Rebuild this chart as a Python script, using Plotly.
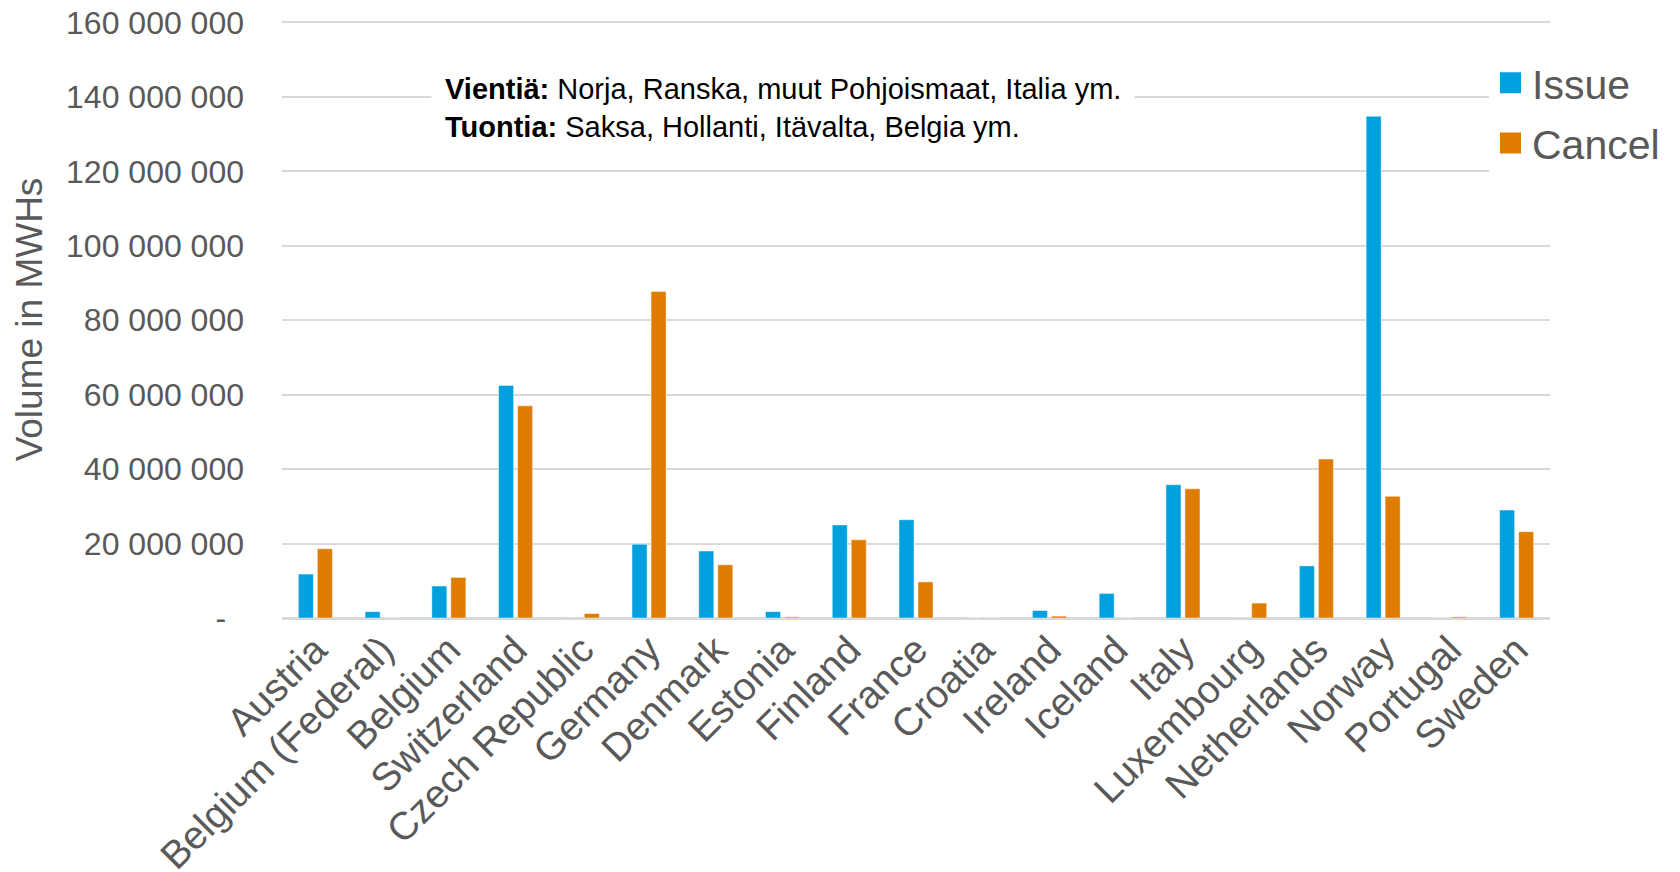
import plotly.graph_objects as go

countries = ["Austria", "Belgium (Federal)", "Belgium", "Switzerland", "Czech Republic",
             "Germany", "Denmark", "Estonia", "Finland", "France", "Croatia", "Ireland",
             "Iceland", "Italy", "Luxembourg", "Netherlands", "Norway", "Portugal", "Sweden"]
issue = [11.8e6, 1.7e6, 8.6e6, 62.5e6, 0.05e6, 19.8e6, 18.0e6, 1.7e6, 25.0e6, 26.4e6,
         0, 2.0e6, 6.6e6, 35.8e6, 0.05e6, 14.0e6, 134.8e6, 0, 29.0e6]
cancel = [18.6e6, 0, 10.9e6, 57.0e6, 1.2e6, 87.7e6, 14.3e6, 0.3e6, 21.0e6, 9.7e6,
          0, 0.5e6, 0, 34.7e6, 4.0e6, 42.7e6, 32.7e6, 0.3e6, 23.2e6]
y_tickvals = [0, 20e6, 40e6, 60e6, 80e6, 100e6, 120e6, 140e6, 160e6]
y_ticktext = ["-\u00a0\u00a0", "20 000 000", "40 000 000", "60 000 000", "80 000 000",
              "100 000 000", "120 000 000", "140 000 000", "160 000 000"]

BLUE = "#00A0DF"
ORANGE = "#DF7C00"
GRAY = "#595959"
FONT = "Liberation Sans, Arial, sans-serif"

# page body has an 8px default margin; figure is sized/offset to compensate
OFF = 8
W, H = 1680 - OFF, 872 - OFF
YMAX = 160.4e6
PL, PT, PR, PB = 282, 20.5, 1550, 618  # plot area in page pixels
PW, PH = PR - PL, PB - PT

fig = go.Figure()
fig.add_trace(go.Bar(x=countries, y=issue, name="Issue", marker_color=BLUE,
                     marker_line=dict(color="rgba(255,255,255,0.45)", width=1),
                     showlegend=False))
fig.add_trace(go.Bar(x=countries, y=cancel, name="Cancel", marker_color=ORANGE,
                     marker_line=dict(color="rgba(255,255,255,0.45)", width=1),
                     showlegend=False))
# legend entries with larger square symbols
fig.add_trace(go.Scatter(x=[None], y=[None], mode="markers", name="Issue", legendgroup="a",
                         marker=dict(symbol="square", size=16, color=BLUE,
                                     line=dict(color=BLUE, width=5))))
fig.add_trace(go.Scatter(x=[None], y=[None], mode="markers", name="Cancel", legendgroup="b",
                         marker=dict(symbol="square", size=16, color=ORANGE,
                                     line=dict(color=ORANGE, width=5))))

fig.add_annotation(
    xref="paper", yref="paper",
    x=(431 - PL) / PW, y=1 - (59 - PT) / PH,
    xanchor="left", yanchor="top", align="left", showarrow=False,
    text="<b>Vientiä:</b> Norja, Ranska, muut Pohjoismaat, Italia ym.<br>"
         "<b>Tuontia:</b> Saksa, Hollanti, Itävalta, Belgia ym.",
    font=dict(family="Liberation Sans Narrow, Arial Narrow, Liberation Sans", size=29, color="#000000"),
    bgcolor="white", borderpad=13,
)

fig.update_layout(
    width=W, height=H,
    margin=dict(l=PL - OFF, r=W - (PR - OFF), t=PT - OFF, b=H - (PB - OFF)),
    paper_bgcolor="white", plot_bgcolor="white",
    barmode="group", bargap=0.43, bargroupgap=0.21,
    font=dict(family=FONT, color=GRAY),
    legend=dict(x=(1489 - PL) / PW, y=1 - (49 - PT) / PH, xanchor="left", yanchor="top",
                bgcolor="white", borderwidth=0,
                font=dict(size=41, color=GRAY), itemwidth=33,
                traceorder="grouped", tracegroupgap=4),
)
fig.update_xaxes(tickangle=-45, tickfont=dict(size=39, color=GRAY), showgrid=False,
                 showline=False, ticks="", automargin=False)
fig.update_yaxes(range=[0, YMAX], tickvals=y_tickvals, ticktext=y_ticktext,
                 tickfont=dict(size=32, color=GRAY), showgrid=True, gridcolor="#D9D9D9",
                 gridwidth=1.5, zeroline=True, zerolinecolor="#D9D9D9", zerolinewidth=3,
                 ticklabelstandoff=37, ticklabeloverflow="allow", automargin=False,
                 title=dict(text="Volume in MWHs", font=dict(size=37, color=GRAY), standoff=12))

fig.write_html("out.html")
